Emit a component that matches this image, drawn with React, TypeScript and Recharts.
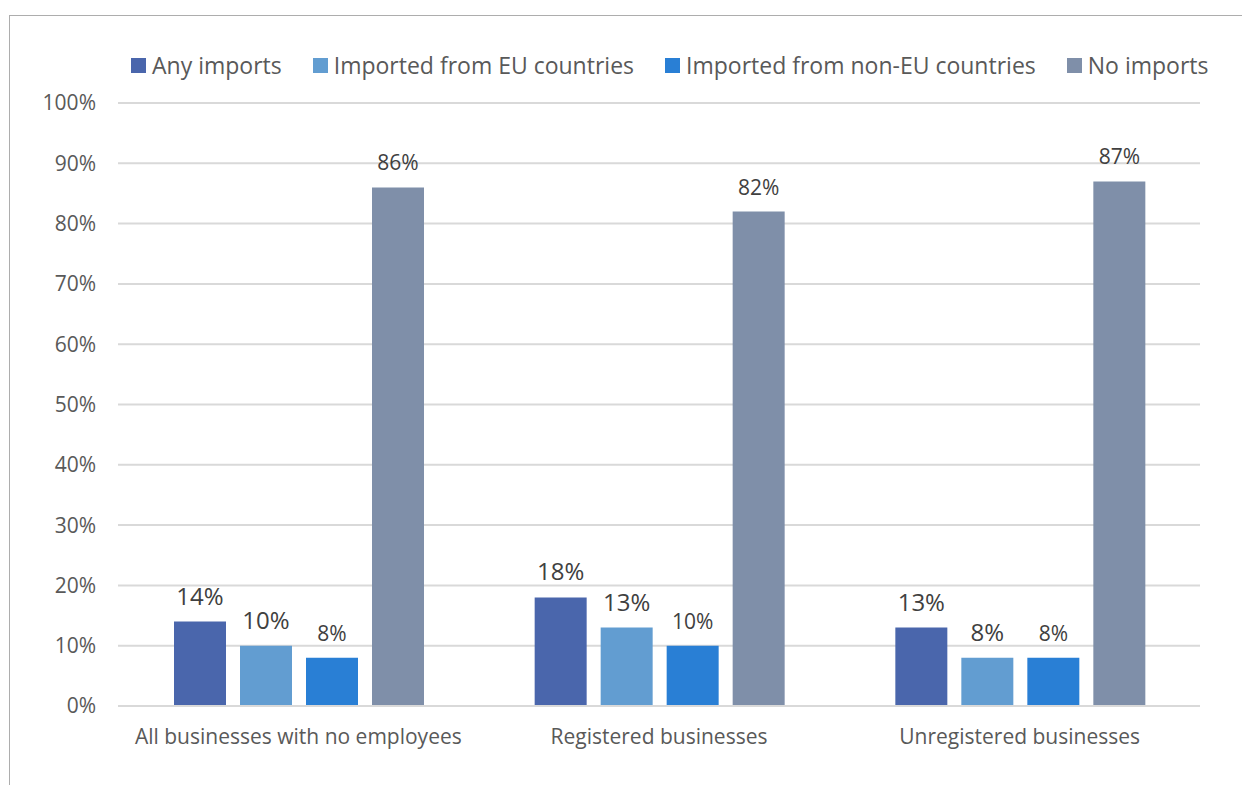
import React from 'react';
import { BarChart, Bar, XAxis, YAxis, CartesianGrid, Legend, LabelList } from 'recharts';

const categories = ['All businesses with no employees', 'Registered businesses', 'Unregistered businesses'];
const anyImports = [14, 18, 13];
const euImports = [10, 13, 8];
const nonEuImports = [8, 10, 8];
const noImports = [86, 82, 87];
const yTicks = [0, 10, 20, 30, 40, 50, 60, 70, 80, 90, 100];

const data = categories.map((name, i) => ({
    name,
    any: anyImports[i],
    eu: euImports[i],
    nonEu: nonEuImports[i],
    none: noImports[i]
}));

const series = [
    { key: 'any', name: 'Any imports', color: '#4A66AC', labelSize: 24 },
    { key: 'eu', name: 'Imported from EU countries', color: '#629DD1', labelSize: 24 },
    { key: 'nonEu', name: 'Imported from non-EU countries', color: '#297FD5', labelSize: 21 },
    { key: 'none', name: 'No imports', color: '#7F8FA9', labelSize: 21 }
];

const pct = (v: number) => `${v}%`;

const renderLegend = () => (
    <div style={{ display: 'flex', alignItems: 'center', height: 30, gap: 31 }}>
        {series.map(s => (
            <div key={s.key} style={{ display: 'flex', alignItems: 'center' }}>
                <span style={{ width: 15, height: 15, background: s.color, display: 'inline-block', marginRight: 6 }} />
                <span style={{ fontSize: 23, color: '#595959', lineHeight: '30px', whiteSpace: 'nowrap' }}>{s.name}</span>
            </div>
        ))}
    </div>
);

const App: React.FC = () => {
    return (
        <div style={{
            position: 'fixed',
            left: 0,
            top: 0,
            width: 1242,
            height: 785,
            overflow: 'hidden',
            background: '#fff',
            fontFamily: '"Open Sans", sans-serif'
        }}>
            <div style={{
                position: 'absolute',
                left: 9,
                top: 15,
                width: 1300,
                height: 800,
                borderLeft: '1px solid #ADADAD',
                borderTop: '1px solid #ADADAD'
            }} />
            <div style={{ position: 'absolute', left: 0, top: 0 }}>
                <BarChart
                    width={1242}
                    height={785}
                    data={data}
                    margin={{ top: 103, right: 42, bottom: 49, left: 18 }}
                    barGap={14}
                    barCategoryGap={56}
                >
                    <CartesianGrid vertical={false} stroke="#D9D9D9" strokeWidth={2} />
                    <XAxis
                        dataKey="name"
                        axisLine={{ stroke: '#D9D9D9', strokeWidth: 2 }}
                        tickLine={false}
                        tickMargin={17}
                        tick={{ fill: '#595959', fontSize: 21 }}
                    />
                    <YAxis
                        width={100}
                        domain={[0, 100]}
                        ticks={yTicks}
                        tickFormatter={pct}
                        axisLine={false}
                        tickLine={false}
                        tickMargin={16}
                        tick={{ fill: '#595959', fontSize: 21 }}
                    />
                    <Legend
                        layout="horizontal"
                        verticalAlign="middle"
                        align="center"
                        content={renderLegend}
                        wrapperStyle={{ top: 50, left: 131, width: 1100 }}
                    />
                    {series.map(s => (
                        <Bar key={s.key} dataKey={s.key} name={s.name} fill={s.color} isAnimationActive={false}>
                            <LabelList
                                dataKey={s.key}
                                position="top"
                                offset={17}
                                formatter={(v: any) => pct(v)}
                                fill="#404040"
                                fontSize={s.labelSize}
                            />
                        </Bar>
                    ))}
                </BarChart>
            </div>
        </div>
    );
};

export default App;
